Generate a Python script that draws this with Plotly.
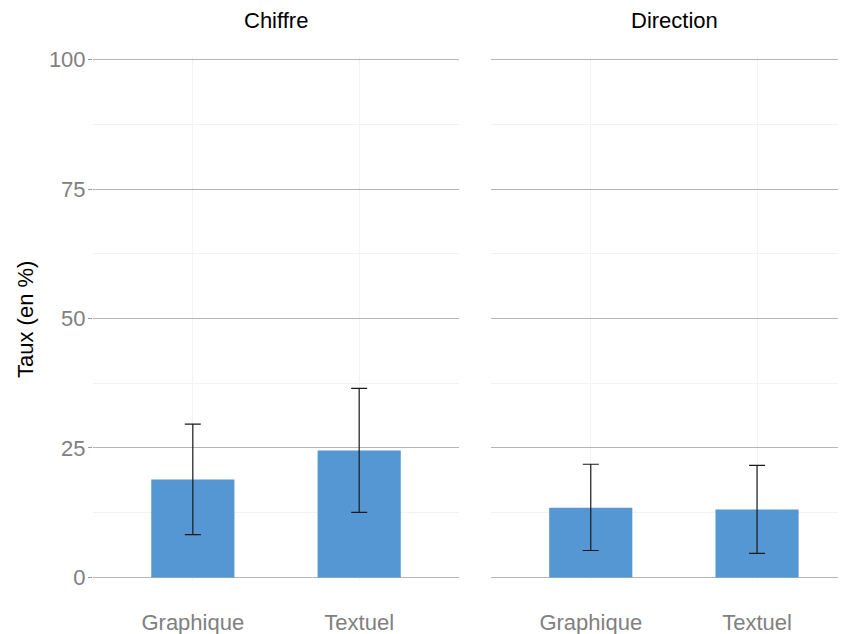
import plotly.graph_objects as go

categories = ["Graphique", "Textuel"]
facets = ["Chiffre", "Direction"]
chiffre_vals = [18.9, 24.5]
chiffre_low = [8.25, 12.55]
chiffre_high = [29.6, 36.5]
direction_vals = [13.45, 13.1]
direction_low = [5.2, 4.65]
direction_high = [21.85, 21.65]
y_ticks = [0, 25, 50, 75, 100]
y_title = "Taux (en %)"

BAR = "#5597D3"
fig = go.Figure()

series = [(chiffre_vals, chiffre_low, chiffre_high, "x", "y"),
          (direction_vals, direction_low, direction_high, "x2", "y2")]
for vals, lo, hi, xa, ya in series:
    fig.add_trace(go.Bar(
        x=categories, y=vals, width=0.5, marker=dict(color=BAR, line=dict(width=0)),
        error_y=dict(type="data", symmetric=False,
                     array=[h - v for h, v in zip(hi, vals)],
                     arrayminus=[v - l for v, l in zip(vals, lo)],
                     color="#1a1a1a", thickness=1.2, width=8),
        xaxis=xa, yaxis=ya, showlegend=False))

font = "Liberation Sans, Arial, sans-serif"
OFF = 8  # page body margin in the browser
W, H = 846 - OFF, 634 - OFF
L, R, T, B = 93 - OFF, 0, 57 - OFF, 54
pw = W - L - R
ph = H - T - B

xcommon = dict(showgrid=True, gridcolor="#f3f3f3", gridwidth=1, zeroline=False,
               showline=False, ticks="", ticklabelstandoff=27, automargin=False,
               tickfont=dict(family=font, size=22, color="#808080"),
               type="category")
ycommon = dict(range=[-0.5, 100.5], tickvals=y_ticks, showgrid=True, gridcolor="#b5b5b5",
               gridwidth=1, zeroline=False, showline=False, automargin=False,
               minor=dict(dtick=12.5, tick0=0, showgrid=True, gridcolor="#f2f2f2", gridwidth=1))

fig.update_layout(
    width=W, height=H,
    margin=dict(l=L, r=R, t=T, b=B),
    plot_bgcolor="white", paper_bgcolor="white",
    font=dict(family=font, color="black"),
    xaxis=dict(domain=[0, 366 / pw], range=[-0.6, 1.6], anchor="y", **xcommon),
    xaxis2=dict(domain=[398 / pw, 1], range=[-0.6, 1.535], anchor="y2", **xcommon),
    yaxis=dict(anchor="x", ticks="outside", ticklen=4, tickcolor="#9a9a9a",
               ticklabelstandoff=-2,
               tickfont=dict(family=font, size=22, color="#808080"),
               **ycommon),
    yaxis2=dict(anchor="x2", showticklabels=False, ticks="", **ycommon),
)

def px_x(px):
    return (px - OFF - L) / pw

def px_y(py):
    return (H - B - (py - OFF)) / ph

for name, cx in zip(facets, [276, 674]):
    fig.add_annotation(text=name, x=px_x(cx), y=px_y(21), xref="paper", yref="paper",
                       showarrow=False, xanchor="center", yanchor="middle",
                       font=dict(family=font, size=22, color="black"))

fig.add_annotation(text=y_title, x=px_x(25), y=px_y(320), xref="paper", yref="paper",
                   showarrow=False, xanchor="center", yanchor="middle", textangle=-90,
                   font=dict(family=font, size=22, color="black"))

fig.write_html("out.html")
